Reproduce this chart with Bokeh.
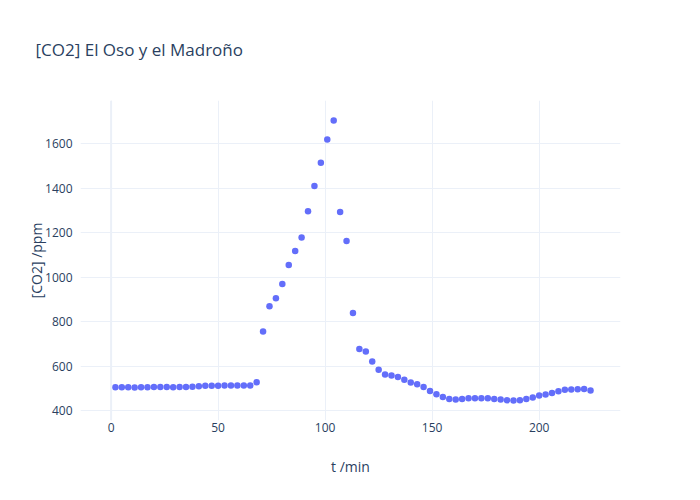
from bokeh.plotting import figure
from bokeh.embed import file_html
from bokeh.resources import INLINE
from bokeh.models import ColumnDataSource, FixedTicker, Span, Title

t_min = [2 + 3 * i for i in range(75)]
co2_ppm = [505, 505, 505, 504, 505, 505, 506, 506, 506, 505,
           506, 506, 507, 509, 511, 511, 511, 512, 512, 512,
           513, 513, 527, 756, 869, 905, 969, 1055, 1118, 1179,
           1297, 1410, 1515, 1619, 1705, 1293, 1163, 839, 677, 665,
           620, 583, 562, 557, 551, 538, 526, 518, 506, 488,
           473, 461, 452, 449, 452, 455, 455, 455, 455, 452,
           449, 446, 445, 446, 452, 458, 467, 472, 479, 487,
           493, 494, 496, 497, 490]

x_ticks = [0, 50, 100, 150, 200]
y_ticks = [400, 600, 800, 1000, 1200, 1400, 1600]
title_text = "[CO2] El Oso y el Madroño"

FONT = "Open Sans"
TXT = "#2a3f5f"
GRID = "#EBF0F8"

src = ColumnDataSource(dict(t=t_min, c=co2_ppm))

p = figure(width=700, height=500, output_backend="svg", toolbar_location=None,
           x_range=(-14.3, 238.0), y_range=(355, 1795),
           min_border_left=80, min_border_right=80, min_border_top=100, min_border_bottom=80)
p.title = Title(text=title_text, text_font=FONT, text_font_size="17px",
                text_color=TXT, text_font_style="normal", offset=-45, standoff=75,
                vertical_align="top")
p.outline_line_color = None
p.background_fill_color = "white"
p.border_fill_color = "white"

for ax in (p.xaxis[0], p.yaxis[0]):
    ax.axis_line_color = None
    ax.major_tick_line_color = None
    ax.minor_tick_line_color = None
    ax.major_label_text_font = FONT
    ax.major_label_text_font_size = "12px"
    ax.major_label_text_color = TXT
    ax.axis_label_text_font = FONT
    ax.axis_label_text_font_size = "14px"
    ax.axis_label_text_color = TXT
    ax.axis_label_text_font_style = "normal"

p.xaxis.ticker = FixedTicker(ticks=x_ticks)
p.yaxis.ticker = FixedTicker(ticks=y_ticks)
p.xaxis.axis_label = "t /min"
p.yaxis.axis_label = "[CO2] /ppm"
p.xaxis.major_label_standoff = -4
p.xaxis.axis_label_standoff = 22
p.yaxis.major_label_standoff = 2
p.yaxis.axis_label_standoff = -4

p.xgrid.grid_line_color = GRID
p.ygrid.grid_line_color = GRID
p.xgrid.grid_line_width = 1
p.ygrid.grid_line_width = 1

p.add_layout(Span(location=0, dimension="height", line_color=GRID, line_width=2))

p.scatter("t", "c", source=src, size=6.5, fill_color="#636efa", line_color=None)

open("out.html", "w").write(file_html(p, INLINE))
